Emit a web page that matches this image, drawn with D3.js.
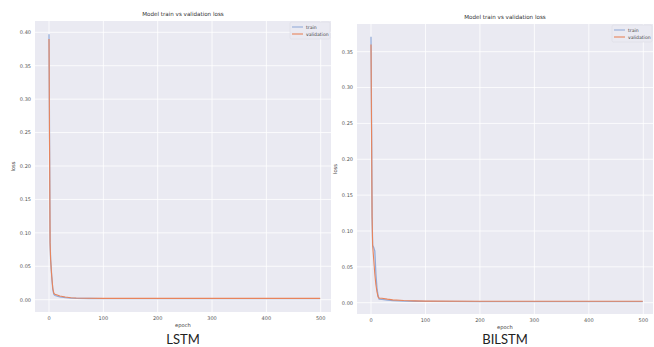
<!DOCTYPE html>
<html>
<head>
<meta charset="utf-8">
<script src="https://cdn.jsdelivr.net/npm/d3@7"></script>
<style>
  body { margin: 0; background: #fff; }
  text { font-family: "DejaVu Sans", sans-serif; }
</style>
</head>
<body>
<svg id="chart" width="654" height="347"></svg>
<script>
// LSTM loss values (sparse epochs)
const lstmEpochs = [0, 1, 2, 3, 5, 7, 9, 11, 15, 20, 30, 40, 50, 75, 100, 200, 300, 400, 499];
const lstmTrain = [0.397, 0.24, 0.085, 0.06, 0.035, 0.015, 0.008, 0.0062, 0.0052, 0.0043, 0.003, 0.0025, 0.002, 0.0018, 0.0017, 0.0016, 0.0015, 0.0015, 0.0015];
const lstmVal = [0.39, 0.23, 0.085, 0.06, 0.035, 0.017, 0.0095, 0.0082, 0.007, 0.0055, 0.004, 0.003, 0.0025, 0.0022, 0.002, 0.002, 0.002, 0.002, 0.002];

// BiLSTM loss values
const bilstmEpochs = [0, 1, 2, 3, 5, 7, 9, 11, 13, 15, 20, 30, 40, 60, 80, 100, 200, 300, 400, 499];
const bilstmTrain = [0.371, 0.25, 0.12, 0.08, 0.077, 0.072, 0.04, 0.02, 0.01, 0.005, 0.0045, 0.0035, 0.003, 0.0022, 0.002, 0.0018, 0.0016, 0.0015, 0.0015, 0.0015];
const bilstmVal = [0.36, 0.24, 0.12, 0.08, 0.06, 0.04, 0.025, 0.015, 0.008, 0.0062, 0.0062, 0.005, 0.004, 0.003, 0.0025, 0.0022, 0.002, 0.002, 0.002, 0.002];

const xTicks = [0, 100, 200, 300, 400, 500];
const lstmYTicks = [0, 0.05, 0.1, 0.15, 0.2, 0.25, 0.3, 0.35, 0.4];
const bilstmYTicks = [0, 0.05, 0.1, 0.15, 0.2, 0.25, 0.3, 0.35];
const seriesNames = ["train", "validation"];
const captions = ["LSTM", "BILSTM"];

const colors = { train: "#94acd9", validation: "#e8845c" };
const svg = d3.select("#chart");

// layout of each panel: plot box plus where the tick values land
const panels = [
  { left: 35, right: 331, top: 21, bottom: 312,
    x0: 49, x500: 320.7, yMaxTick: 0.4, yZero: 299.7, yTop: 32.3,
    epochs: lstmEpochs, train: lstmTrain, val: lstmVal, yTicks: lstmYTicks,
    caption: captions[0], titleY: 16, legendTop: 21 },
  { left: 357, right: 653, top: 24, bottom: 314,
    x0: 371, x500: 643.3, yMaxTick: 0.35, yZero: 302.7, yTop: 51.7,
    epochs: bilstmEpochs, train: bilstmTrain, val: bilstmVal, yTicks: bilstmYTicks,
    caption: captions[1], titleY: 19, legendTop: 24 }
];

panels.forEach((p, i) => {
  const x = d3.scaleLinear().domain([0, 500]).range([p.x0, p.x500]);
  const y = d3.scaleLinear().domain([0, p.yMaxTick]).range([p.yZero, p.yTop]);
  const cx = (p.left + p.right) / 2;
  const g = svg.append("g");

  // plot background
  g.append("rect")
    .attr("x", p.left).attr("y", p.top)
    .attr("width", p.right - p.left).attr("height", p.bottom - p.top)
    .attr("fill", "#eaeaf2");

  // grid
  g.selectAll(".gx").data(xTicks).enter().append("line")
    .attr("x1", d => x(d)).attr("x2", d => x(d))
    .attr("y1", p.top).attr("y2", p.bottom)
    .attr("stroke", "#fff").attr("stroke-width", 0.8);
  g.selectAll(".gy").data(p.yTicks).enter().append("line")
    .attr("x1", p.left).attr("x2", p.right)
    .attr("y1", d => y(d)).attr("y2", d => y(d))
    .attr("stroke", "#fff").attr("stroke-width", 0.8);

  // tick labels
  g.selectAll(".tx").data(xTicks).enter().append("text")
    .attr("x", d => x(d)).attr("y", p.bottom + 7.8)
    .attr("text-anchor", "middle")
    .attr("font-size", 5).attr("fill", "#555")
    .text(d => d);
  g.selectAll(".ty").data(p.yTicks).enter().append("text")
    .attr("x", p.left - 4).attr("y", d => y(d) + 1.8)
    .attr("text-anchor", "end")
    .attr("font-size", 5).attr("fill", "#555")
    .text(d => d3.format(".2f")(d));

  // clip so lines stay in the box
  svg.append("clipPath").attr("id", "clip" + i)
    .append("rect")
    .attr("x", p.left).attr("y", p.top)
    .attr("width", p.right - p.left).attr("height", p.bottom - p.top);

  const line = d3.line()
    .x(d => x(d[0]))
    .y(d => y(d[1]));

  g.append("path")
    .datum(p.epochs.map((e, k) => [e, p.train[k]]))
    .attr("clip-path", `url(#clip${i})`)
    .attr("fill", "none").attr("stroke", colors.train)
    .attr("stroke-width", 1.3)
    .attr("d", line);
  g.append("path")
    .datum(p.epochs.map((e, k) => [e, p.val[k]]))
    .attr("clip-path", `url(#clip${i})`)
    .attr("fill", "none").attr("stroke", colors.validation)
    .attr("stroke-width", 1.1)
    .attr("d", line);

  // title and axis labels
  g.append("text")
    .attr("x", cx).attr("y", p.titleY)
    .attr("text-anchor", "middle")
    .attr("font-size", 5.6).attr("fill", "#333")
    .text("Model train vs validation loss");
  g.append("text")
    .attr("x", cx).attr("y", p.bottom + 14.5)
    .attr("text-anchor", "middle")
    .attr("font-size", 5.2).attr("fill", "#444")
    .text("epoch");
  g.append("text")
    .attr("transform", `translate(${p.left - 20},${(p.top + p.bottom) / 2}) rotate(-90)`)
    .attr("text-anchor", "middle")
    .attr("font-size", 5.2).attr("fill", "#444")
    .text("loss");

  // legend
  const lg = g.append("g")
    .attr("transform", `translate(${p.right - 41},${p.legendTop + 1})`);
  lg.append("rect")
    .attr("width", 40).attr("height", 17).attr("rx", 1.5)
    .attr("fill", "#eaeaf2").attr("stroke", "#d8d8e0").attr("stroke-width", 0.5);
  seriesNames.forEach((name, k) => {
    const yy = 5 + k * 7;
    lg.append("line")
      .attr("x1", 2).attr("x2", 13).attr("y1", yy).attr("y2", yy)
      .attr("stroke", colors[name]).attr("stroke-width", 1.1);
    lg.append("text")
      .attr("x", 16).attr("y", yy + 1.6)
      .attr("font-size", 4.6).attr("fill", "#444")
      .text(name);
  });

  // caption under each chart
  svg.append("text")
    .attr("x", cx).attr("y", 343.5)
    .attr("text-anchor", "middle")
    .attr("font-size", 13).attr("fill", "#222")
    .style("font-family", "Lato, sans-serif")
    .text(p.caption);
});
</script>
</body>
</html>
